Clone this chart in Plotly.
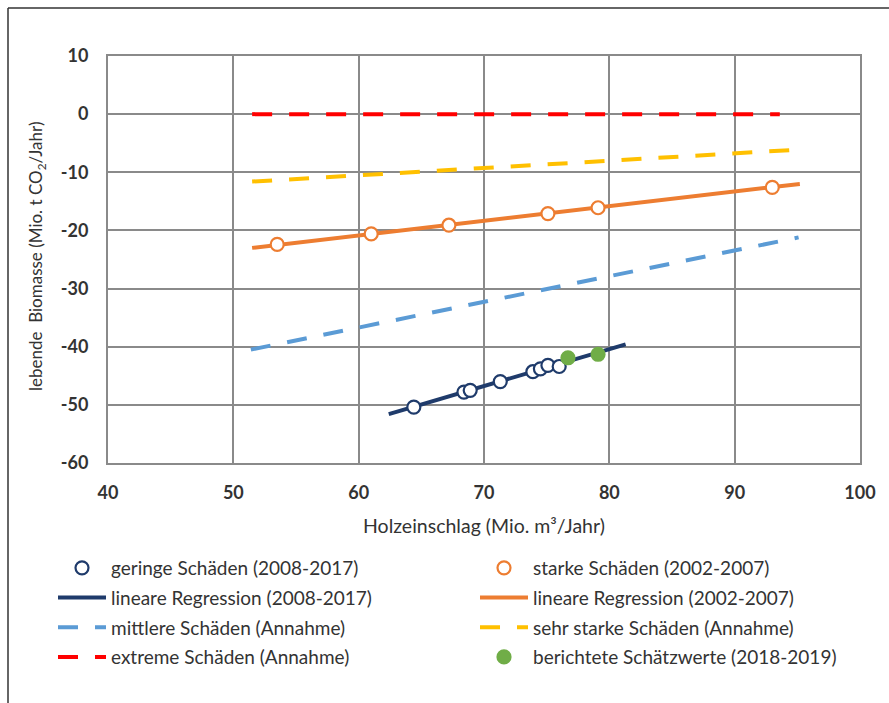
import plotly.graph_objects as go

# --- data -------------------------------------------------------------
# observed years with low damage (2008-2017)
gering_x = [64.4, 68.4, 68.9, 71.3, 73.9, 74.5, 75.1, 76.0]
gering_y = [-50.4, -47.8, -47.5, -46.0, -44.3, -43.8, -43.2, -43.4]

# observed years with heavy damage (2002-2007)
stark_x = [53.5, 61.0, 67.2, 75.1, 79.1, 93.0]
stark_y = [-22.4, -20.6, -19.1, -17.1, -16.1, -12.6]

# reported estimates (2018-2019)
bericht_x = [76.7, 79.1]
bericht_y = [-41.9, -41.3]

# regression lines and scenario lines (start / end points)
reg_gering_x = [62.4, 81.3]
reg_gering_y = [-51.6, -39.6]
reg_stark_x = [51.5, 95.2]
reg_stark_y = [-23.0, -12.0]
mittel_x = [51.4, 95.1]
mittel_y = [-40.5, -21.2]
sehr_stark_x = [51.5, 95.1]
sehr_stark_y = [-11.6, -6.1]
extrem_x = [51.5, 93.6]
extrem_y = [0.0, 0.0]

x_ticks = [40, 50, 60, 70, 80, 90, 100]
y_ticks = [10, 0, -10, -20, -30, -40, -50, -60]

# --- styling ----------------------------------------------------------
NAVY = "#1f3b6b"
ORANGE = "#ed7d31"
YELLOW = "#ffc000"
LIGHTBLUE = "#5b9bd5"
RED = "#ff0000"
GREEN = "#70ad47"
GRID = "#8a8a8a"
TEXT = "#333333"
FONT = "Lato, 'Open Sans', sans-serif"
DASH = "20px,17px"

W, H = 889, 703
L, R, T, B = 108, 860, 56, 463  # plot area in pixels


def px_x(p):
    return (p - L) / (R - L)


def px_y(p):
    return (B - p) / (B - T)


fig = go.Figure()


def add_line(x, y, name, color, rank, leg, dash=None):
    fig.add_trace(go.Scatter(
        x=x, y=y, mode="lines", name=name, legendrank=rank, legend=leg,
        legendgroup=name, line=dict(color=color, width=4, dash=dash)))


def add_points(x, y, name, edge, fill, rank, leg):
    fig.add_trace(go.Scatter(
        x=x, y=y, mode="markers", name=name, legendrank=rank, legend=leg,
        legendgroup=name,
        marker=dict(symbol="circle", size=13, color=fill,
                    line=dict(color=edge, width=2.2))))


# lines first so the markers sit on top
add_line(reg_gering_x, reg_gering_y, "lineare Regression (2008-2017)", NAVY, 2, "legend")
add_line(reg_stark_x, reg_stark_y, "lineare Regression (2002-2007)", ORANGE, 2, "legend2")
add_line(mittel_x, mittel_y, "mittlere Schäden (Annahme)", LIGHTBLUE, 3, "legend", DASH)
add_line(sehr_stark_x, sehr_stark_y, "sehr starke Schäden (Annahme)", YELLOW, 3, "legend2", DASH)
add_line(extrem_x, extrem_y, "extreme Schäden (Annahme)", RED, 4, "legend", DASH)

add_points(gering_x, gering_y, "geringe Schäden (2008-2017)", NAVY, "white", 1, "legend")
add_points(stark_x, stark_y, "starke Schäden (2002-2007)", ORANGE, "white", 1, "legend2")
add_points(bericht_x, bericht_y, "berichtete Schätzwerte (2018-2019)", GREEN, GREEN, 4, "legend2")

axis_common = dict(
    showgrid=True, gridcolor=GRID, gridwidth=2,
    showline=True, linecolor=GRID, linewidth=2, mirror=True,
    zeroline=False, ticks="outside", tickcolor="white",
    tickfont=dict(family=FONT, size=18, color=TEXT, weight="bold"),
)

fig.update_xaxes(range=[40, 100], tickvals=x_ticks,
                 ticktext=[str(v) for v in x_ticks], ticklen=12, **axis_common)
fig.update_yaxes(range=[-60, 10], tickvals=y_ticks,
                 ticktext=[str(v) for v in y_ticks], ticklen=14, **axis_common)

legend_common = dict(
    orientation="v", xref="container", yref="container",
    xanchor="left", yanchor="top", itemwidth=48, tracegroupgap=2,
    font=dict(family=FONT, size=19, color=TEXT),
    bgcolor="rgba(0,0,0,0)", traceorder="grouped",
)

fig.update_layout(
    width=W, height=H,
    margin=dict(l=L, r=W - R, t=T, b=H - B, autoexpand=False),
    paper_bgcolor="white", plot_bgcolor="white",
    font=dict(family=FONT, size=18, color=TEXT),
    showlegend=True,
    legend=dict(x=53 / W, y=1 - 549 / H, **legend_common),
    legend2=dict(x=475 / W, y=1 - 549 / H, **legend_common),
    annotations=[
        dict(text="Holzeinschlag (Mio. m³/Jahr)", xref="paper", yref="paper",
             x=px_x(484), y=px_y(525), xanchor="center", yanchor="middle",
             showarrow=False, font=dict(family=FONT, size=19.5, color=TEXT)),
        dict(text="lebende\u00a0 Biomasse (Mio. t CO<sub>2</sub>/Jahr)",
             xref="paper", yref="paper", textangle=-90,
             x=px_x(37), y=px_y(257), xanchor="center", yanchor="middle",
             showarrow=False, font=dict(family=FONT, size=17, color=TEXT)),
    ],
    shapes=[
        dict(type="line", xref="paper", yref="paper",
             x0=px_x(8), x1=px_x(900), y0=px_y(8), y1=px_y(8),
             line=dict(color="#333333", width=1.5)),
        dict(type="line", xref="paper", yref="paper",
             x0=px_x(8), x1=px_x(8), y0=px_y(8), y1=px_y(710),
             line=dict(color="#333333", width=1.5)),
    ],
)

fig.write_html("out.html")
